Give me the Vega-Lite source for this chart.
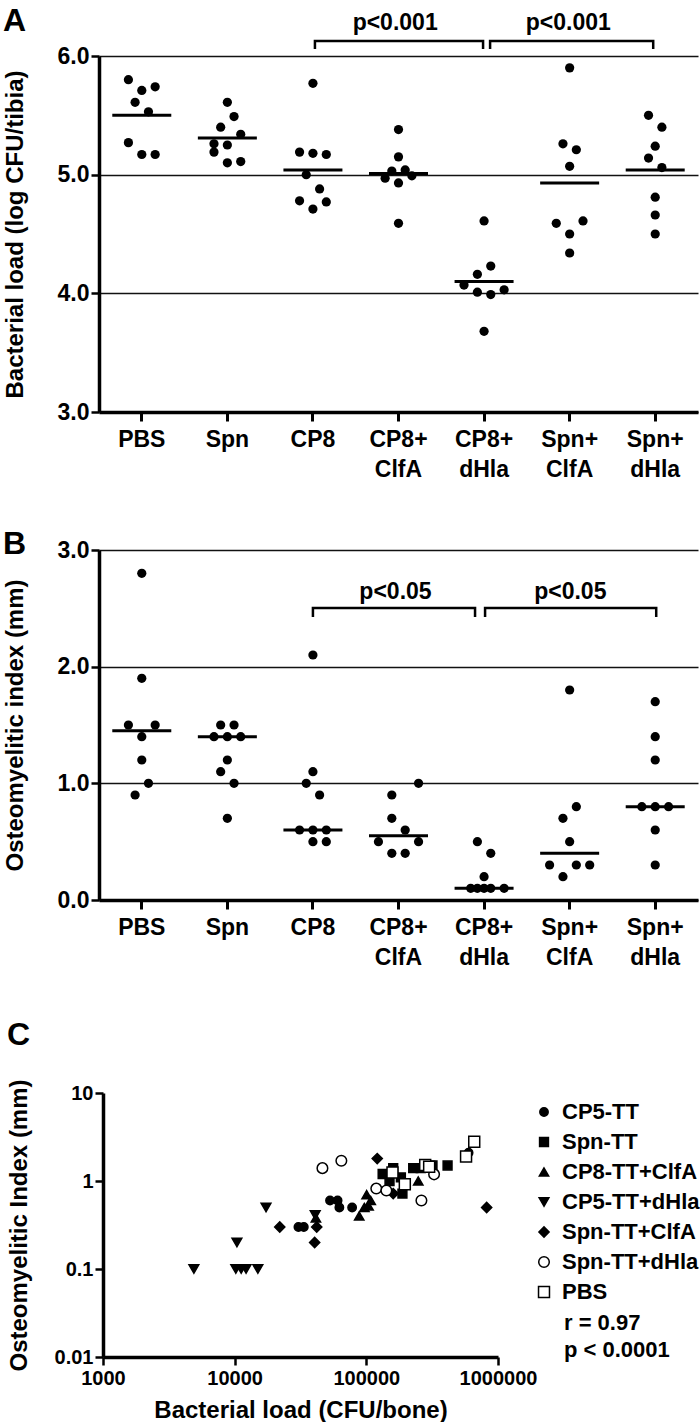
{
  "$schema": "https://vega.github.io/schema/vega-lite/v6.json",
  "background": "white",
  "padding": {"left": 2, "top": 4, "right": 0, "bottom": 0},
  "bounds": "flush",
  "spacing": 138,
  "resolve": {"scale": {"shape": "independent", "fill": "independent", "size": "independent", "stroke": "independent"}, "legend": {"shape": "independent", "fill": "independent", "size": "independent", "stroke": "independent"}},
  "config": {
    "view": {"stroke": null},
    "font": "Liberation Sans",
    "axis": {"labelFontWeight": "bold", "titleFontWeight": "bold", "labelColor": "black", "titleColor": "black", "domainColor": "black", "tickColor": "black", "domainWidth": 3.5, "tickWidth": 2.5},
    "title": {"fontWeight": "bold", "color": "black", "fontSize": 32, "anchor": "start", "frame": "bounds", "baseline": "bottom"}
  },
  "vconcat": [
    {
      "title": {"text": "A", "offset": -26},
      "width": 599,
      "height": 356,
      "encoding": {
        "x": {"field": "g", "type": "nominal", "scale": {"domain": ["PBS", "Spn", "CP8", "CP8+ ClfA", "CP8+ dHla", "Spn+ ClfA", "Spn+ dHla"], "paddingInner": 0, "paddingOuter": 0},
          "axis": {"title": null, "labelAngle": 0, "labelFontSize": 23, "labelExpr": "split(datum.label, ' ')", "labelLineHeight": 30, "labelPadding": 7, "tickSize": 9, "tickWidth": 3, "labelOverlap": false, "labelBaseline": "top"}},
        "y": {"field": "v", "type": "quantitative", "scale": {"domain": [3, 6], "nice": false, "zero": false},
          "axis": {"title": "Bacterial load (log CFU/tibia)", "titleFontSize": 24, "titleX": -72, "titleBaseline": "bottom", "values": [3, 4, 5, 6], "format": ".1f", "labelFontSize": 23, "labelPadding": 2, "tickSize": 8, "grid": true, "gridColor": "#111111", "gridWidth": 1.3}}
      },
      "layer": [
        {
          "data": {"values": [
            {"g": "PBS", "v": 5.80, "dx": -2}, {"g": "PBS", "v": 5.71, "dx": 0}, {"g": "PBS", "v": 5.74, "dx": 2}, {"g": "PBS", "v": 5.61, "dx": -1}, {"g": "PBS", "v": 5.53, "dx": 1}, {"g": "PBS", "v": 5.27, "dx": -2}, {"g": "PBS", "v": 5.17, "dx": 0}, {"g": "PBS", "v": 5.17, "dx": 2},
            {"g": "Spn", "v": 5.61, "dx": 0}, {"g": "Spn", "v": 5.49, "dx": 1}, {"g": "Spn", "v": 5.40, "dx": -1}, {"g": "Spn", "v": 5.34, "dx": 2}, {"g": "Spn", "v": 5.26, "dx": -2}, {"g": "Spn", "v": 5.25, "dx": 0}, {"g": "Spn", "v": 5.19, "dx": -2}, {"g": "Spn", "v": 5.11, "dx": 2}, {"g": "Spn", "v": 5.10, "dx": 0},
            {"g": "CP8", "v": 5.77, "dx": 0}, {"g": "CP8", "v": 5.19, "dx": -2}, {"g": "CP8", "v": 5.18, "dx": 0}, {"g": "CP8", "v": 5.17, "dx": 2}, {"g": "CP8", "v": 5.00, "dx": -1}, {"g": "CP8", "v": 4.88, "dx": 1}, {"g": "CP8", "v": 4.78, "dx": -2}, {"g": "CP8", "v": 4.77, "dx": 2}, {"g": "CP8", "v": 4.71, "dx": 0},
            {"g": "CP8+ ClfA", "v": 5.38, "dx": 0}, {"g": "CP8+ ClfA", "v": 5.15, "dx": 0}, {"g": "CP8+ ClfA", "v": 5.04, "dx": 1}, {"g": "CP8+ ClfA", "v": 5.03, "dx": -1}, {"g": "CP8+ ClfA", "v": 4.99, "dx": 2}, {"g": "CP8+ ClfA", "v": 4.97, "dx": -2}, {"g": "CP8+ ClfA", "v": 4.93, "dx": 0}, {"g": "CP8+ ClfA", "v": 4.59, "dx": 0},
            {"g": "CP8+ dHla", "v": 4.61, "dx": 0}, {"g": "CP8+ dHla", "v": 4.23, "dx": 1}, {"g": "CP8+ dHla", "v": 4.16, "dx": -1}, {"g": "CP8+ dHla", "v": 4.07, "dx": -3}, {"g": "CP8+ dHla", "v": 4.01, "dx": -1}, {"g": "CP8+ dHla", "v": 3.99, "dx": 1}, {"g": "CP8+ dHla", "v": 4.03, "dx": 3}, {"g": "CP8+ dHla", "v": 3.68, "dx": 0},
            {"g": "Spn+ ClfA", "v": 5.90, "dx": 0}, {"g": "Spn+ ClfA", "v": 5.26, "dx": -1}, {"g": "Spn+ ClfA", "v": 5.21, "dx": 1}, {"g": "Spn+ ClfA", "v": 5.07, "dx": 0}, {"g": "Spn+ ClfA", "v": 4.59, "dx": -2}, {"g": "Spn+ ClfA", "v": 4.61, "dx": 2}, {"g": "Spn+ ClfA", "v": 4.50, "dx": 0}, {"g": "Spn+ ClfA", "v": 4.34, "dx": 0},
            {"g": "Spn+ dHla", "v": 5.50, "dx": -1}, {"g": "Spn+ dHla", "v": 5.40, "dx": 1}, {"g": "Spn+ dHla", "v": 5.24, "dx": 0}, {"g": "Spn+ dHla", "v": 5.14, "dx": -1}, {"g": "Spn+ dHla", "v": 5.06, "dx": 1}, {"g": "Spn+ dHla", "v": 4.81, "dx": 0}, {"g": "Spn+ dHla", "v": 4.66, "dx": 0}, {"g": "Spn+ dHla", "v": 4.50, "dx": 0}
          ]},
          "mark": {"type": "circle", "size": 85, "color": "black", "opacity": 1},
          "encoding": {"xOffset": {"field": "dx", "type": "quantitative", "scale": {"domain": [-6.4, 6.4], "nice": false, "zero": false}}}
        },
        {
          "data": {"values": [
            {"g": "PBS", "v": 5.50}, {"g": "Spn", "v": 5.31}, {"g": "CP8", "v": 5.04}, {"g": "CP8+ ClfA", "v": 5.01}, {"g": "CP8+ dHla", "v": 4.10}, {"g": "Spn+ ClfA", "v": 4.93}, {"g": "Spn+ dHla", "v": 5.04}
          ]},
          "mark": {"type": "tick", "color": "black", "thickness": 3, "size": 59, "orient": "horizontal", "opacity": 1}
        },
        {
          "data": {"values": [
            {"b": 1, "o": 1, "g": "CP8", "dx": 0.3, "v": 6.059}, {"b": 1, "o": 2, "g": "CP8", "dx": 0.3, "v": 6.126}, {"b": 1, "o": 3, "g": "CP8+ dHla", "dx": -0.15, "v": 6.126}, {"b": 1, "o": 4, "g": "CP8+ dHla", "dx": -0.15, "v": 6.059},
            {"b": 2, "o": 1, "g": "CP8+ dHla", "dx": 0.9, "v": 6.059}, {"b": 2, "o": 2, "g": "CP8+ dHla", "dx": 0.9, "v": 6.126}, {"b": 2, "o": 3, "g": "Spn+ dHla", "dx": -0.3, "v": 6.126}, {"b": 2, "o": 4, "g": "Spn+ dHla", "dx": -0.3, "v": 6.059}
          ]},
          "mark": {"type": "line", "color": "black", "strokeWidth": 2.5},
          "encoding": {"xOffset": {"field": "dx", "type": "quantitative", "scale": {"domain": [-6.4, 6.4], "nice": false, "zero": false}}, "detail": {"field": "b"}, "order": {"field": "o"}}
        },
        {
          "data": {"values": [
            {"g": "CP8+ ClfA", "dx": -0.5, "v": 6.222, "t": "p<0.001"}, {"g": "Spn+ ClfA", "dx": -0.2, "v": 6.222, "t": "p<0.001"}
          ]},
          "mark": {"type": "text", "fontSize": 23, "fontWeight": "bold", "baseline": "alphabetic", "align": "center", "color": "black"},
          "encoding": {"xOffset": {"field": "dx", "type": "quantitative", "scale": {"domain": [-6.4, 6.4], "nice": false, "zero": false}}, "text": {"field": "t"}}
        }
      ]
    },
    {
      "title": {"text": "B", "offset": -22},
      "width": 599,
      "height": 350,
      "encoding": {
        "x": {"field": "g", "type": "nominal", "scale": {"domain": ["PBS", "Spn", "CP8", "CP8+ ClfA", "CP8+ dHla", "Spn+ ClfA", "Spn+ dHla"], "paddingInner": 0, "paddingOuter": 0},
          "axis": {"title": null, "labelAngle": 0, "labelFontSize": 23, "labelExpr": "split(datum.label, ' ')", "labelLineHeight": 30, "labelPadding": 7, "tickSize": 9, "tickWidth": 3, "labelOverlap": false, "labelBaseline": "top"}},
        "y": {"field": "v", "type": "quantitative", "scale": {"domain": [0, 3], "nice": false, "zero": false},
          "axis": {"title": "Osteomyelitic index (mm)", "titleFontSize": 24, "titleX": -72, "titleBaseline": "bottom", "values": [0, 1, 2, 3], "format": ".1f", "labelFontSize": 23, "labelPadding": 2, "tickSize": 8, "grid": true, "gridColor": "#111111", "gridWidth": 1.3}}
      },
      "layer": [
        {
          "data": {"values": [
            {"g": "PBS", "v": 2.8, "dx": 0}, {"g": "PBS", "v": 1.9, "dx": 0}, {"g": "PBS", "v": 1.5, "dx": -2}, {"g": "PBS", "v": 1.5, "dx": 2}, {"g": "PBS", "v": 1.4, "dx": 0}, {"g": "PBS", "v": 1.2, "dx": 0}, {"g": "PBS", "v": 1.0, "dx": 1}, {"g": "PBS", "v": 0.9, "dx": -1},
            {"g": "Spn", "v": 1.5, "dx": -1}, {"g": "Spn", "v": 1.5, "dx": 1}, {"g": "Spn", "v": 1.4, "dx": -2}, {"g": "Spn", "v": 1.4, "dx": 0}, {"g": "Spn", "v": 1.4, "dx": 2}, {"g": "Spn", "v": 1.2, "dx": 0}, {"g": "Spn", "v": 1.1, "dx": -1}, {"g": "Spn", "v": 1.0, "dx": 1}, {"g": "Spn", "v": 0.7, "dx": 0},
            {"g": "CP8", "v": 2.1, "dx": 0}, {"g": "CP8", "v": 1.1, "dx": 0}, {"g": "CP8", "v": 1.0, "dx": -1}, {"g": "CP8", "v": 0.9, "dx": 1}, {"g": "CP8", "v": 0.6, "dx": -2}, {"g": "CP8", "v": 0.6, "dx": 0}, {"g": "CP8", "v": 0.6, "dx": 2}, {"g": "CP8", "v": 0.5, "dx": 0}, {"g": "CP8", "v": 0.5, "dx": 2},
            {"g": "CP8+ ClfA", "v": 1.0, "dx": 3}, {"g": "CP8+ ClfA", "v": 0.9, "dx": -1}, {"g": "CP8+ ClfA", "v": 0.7, "dx": -1}, {"g": "CP8+ ClfA", "v": 0.6, "dx": 1}, {"g": "CP8+ ClfA", "v": 0.5, "dx": -3}, {"g": "CP8+ ClfA", "v": 0.5, "dx": 3}, {"g": "CP8+ ClfA", "v": 0.4, "dx": -1}, {"g": "CP8+ ClfA", "v": 0.4, "dx": 1},
            {"g": "CP8+ dHla", "v": 0.5, "dx": -1}, {"g": "CP8+ dHla", "v": 0.4, "dx": 1}, {"g": "CP8+ dHla", "v": 0.2, "dx": 0}, {"g": "CP8+ dHla", "v": 0.1, "dx": -2}, {"g": "CP8+ dHla", "v": 0.1, "dx": -1}, {"g": "CP8+ dHla", "v": 0.1, "dx": 0}, {"g": "CP8+ dHla", "v": 0.1, "dx": 1}, {"g": "CP8+ dHla", "v": 0.1, "dx": 3},
            {"g": "Spn+ ClfA", "v": 1.8, "dx": 0}, {"g": "Spn+ ClfA", "v": 0.8, "dx": 1}, {"g": "Spn+ ClfA", "v": 0.7, "dx": -1}, {"g": "Spn+ ClfA", "v": 0.5, "dx": 0}, {"g": "Spn+ ClfA", "v": 0.3, "dx": -3}, {"g": "Spn+ ClfA", "v": 0.3, "dx": 1}, {"g": "Spn+ ClfA", "v": 0.3, "dx": 3}, {"g": "Spn+ ClfA", "v": 0.2, "dx": -1},
            {"g": "Spn+ dHla", "v": 1.7, "dx": 0}, {"g": "Spn+ dHla", "v": 1.4, "dx": 0}, {"g": "Spn+ dHla", "v": 1.2, "dx": 0}, {"g": "Spn+ dHla", "v": 0.8, "dx": -2}, {"g": "Spn+ dHla", "v": 0.8, "dx": 0}, {"g": "Spn+ dHla", "v": 0.8, "dx": 2}, {"g": "Spn+ dHla", "v": 0.6, "dx": 0}, {"g": "Spn+ dHla", "v": 0.3, "dx": 0}
          ]},
          "mark": {"type": "circle", "size": 85, "color": "black", "opacity": 1},
          "encoding": {"xOffset": {"field": "dx", "type": "quantitative", "scale": {"domain": [-6.4, 6.4], "nice": false, "zero": false}}}
        },
        {
          "data": {"values": [
            {"g": "PBS", "v": 1.45}, {"g": "Spn", "v": 1.40}, {"g": "CP8", "v": 0.60}, {"g": "CP8+ ClfA", "v": 0.55}, {"g": "CP8+ dHla", "v": 0.10}, {"g": "Spn+ ClfA", "v": 0.40}, {"g": "Spn+ dHla", "v": 0.80}
          ]},
          "mark": {"type": "tick", "color": "black", "thickness": 3, "size": 59, "orient": "horizontal", "opacity": 1}
        },
        {
          "data": {"values": [
            {"b": 1, "o": 1, "g": "CP8", "dx": 0, "v": 2.426}, {"b": 1, "o": 2, "g": "CP8", "dx": 0, "v": 2.503}, {"b": 1, "o": 3, "g": "CP8+ dHla", "dx": -1.35, "v": 2.503}, {"b": 1, "o": 4, "g": "CP8+ dHla", "dx": -1.35, "v": 2.426},
            {"b": 2, "o": 1, "g": "CP8+ dHla", "dx": 0.15, "v": 2.426}, {"b": 2, "o": 2, "g": "CP8+ dHla", "dx": 0.15, "v": 2.503}, {"b": 2, "o": 3, "g": "Spn+ dHla", "dx": 0.15, "v": 2.503}, {"b": 2, "o": 4, "g": "Spn+ dHla", "dx": 0.15, "v": 2.426}
          ]},
          "mark": {"type": "line", "color": "black", "strokeWidth": 2.5},
          "encoding": {"xOffset": {"field": "dx", "type": "quantitative", "scale": {"domain": [-6.4, 6.4], "nice": false, "zero": false}}, "detail": {"field": "b"}, "order": {"field": "o"}}
        },
        {
          "data": {"values": [
            {"g": "CP8+ ClfA", "dx": -0.45, "v": 2.583, "t": "p<0.05"}, {"g": "Spn+ ClfA", "dx": 0.1, "v": 2.583, "t": "p<0.05"}
          ]},
          "mark": {"type": "text", "fontSize": 23, "fontWeight": "bold", "baseline": "alphabetic", "align": "center", "color": "black"},
          "encoding": {"xOffset": {"field": "dx", "type": "quantitative", "scale": {"domain": [-6.4, 6.4], "nice": false, "zero": false}}, "text": {"field": "t"}}
        }
      ]
    },
    {
      "title": {"text": "C", "offset": -14},
      "width": 399,
      "height": 319,
      "layer": [
        {
          "data": {"values": [
            {"grp": "CP5-TT", "load": 598000, "oi": 2.1}, {"grp": "CP5-TT", "load": 53000, "oi": 0.6}, {"grp": "CP5-TT", "load": 60500, "oi": 0.6}, {"grp": "CP5-TT", "load": 62400, "oi": 0.5}, {"grp": "CP5-TT", "load": 78000, "oi": 0.5}, {"grp": "CP5-TT", "load": 30500, "oi": 0.3}, {"grp": "CP5-TT", "load": 33500, "oi": 0.3},
            {"grp": "Spn-TT", "load": 414000, "oi": 1.5}, {"grp": "Spn-TT", "load": 318000, "oi": 1.5}, {"grp": "Spn-TT", "load": 227000, "oi": 1.4}, {"grp": "Spn-TT", "load": 259000, "oi": 1.4}, {"grp": "Spn-TT", "load": 160000, "oi": 1.4}, {"grp": "Spn-TT", "load": 133000, "oi": 1.2}, {"grp": "Spn-TT", "load": 183000, "oi": 1.1}, {"grp": "Spn-TT", "load": 150000, "oi": 1.0}, {"grp": "Spn-TT", "load": 188000, "oi": 0.72},
            {"grp": "CP8-TT+ClfA", "load": 41400, "oi": 0.38}, {"grp": "CP8-TT+ClfA", "load": 88300, "oi": 0.4}, {"grp": "CP8-TT+ClfA", "load": 96600, "oi": 0.5}, {"grp": "CP8-TT+ClfA", "load": 104000, "oi": 0.52}, {"grp": "CP8-TT+ClfA", "load": 108000, "oi": 0.6}, {"grp": "CP8-TT+ClfA", "load": 100500, "oi": 0.7}, {"grp": "CP8-TT+ClfA", "load": 248000, "oi": 1.0},
            {"grp": "CP5-TT+dHla", "load": 4900, "oi": 0.1}, {"grp": "CP5-TT+dHla", "load": 10200, "oi": 0.1}, {"grp": "CP5-TT+dHla", "load": 11200, "oi": 0.1}, {"grp": "CP5-TT+dHla", "load": 12200, "oi": 0.1}, {"grp": "CP5-TT+dHla", "load": 15000, "oi": 0.1}, {"grp": "CP5-TT+dHla", "load": 10400, "oi": 0.2}, {"grp": "CP5-TT+dHla", "load": 17300, "oi": 0.5}, {"grp": "CP5-TT+dHla", "load": 40900, "oi": 0.41},
            {"grp": "Spn-TT+ClfA", "load": 121000, "oi": 1.8}, {"grp": "Spn-TT+ClfA", "load": 820000, "oi": 0.5}, {"grp": "Spn-TT+ClfA", "load": 22000, "oi": 0.3}, {"grp": "Spn-TT+ClfA", "load": 42000, "oi": 0.3}, {"grp": "Spn-TT+ClfA", "load": 40500, "oi": 0.2}, {"grp": "Spn-TT+ClfA", "load": 160000, "oi": 0.72},
            {"grp": "Spn-TT+dHla", "load": 46400, "oi": 1.4}, {"grp": "Spn-TT+dHla", "load": 64600, "oi": 1.7}, {"grp": "Spn-TT+dHla", "load": 119000, "oi": 0.82}, {"grp": "Spn-TT+dHla", "load": 142000, "oi": 0.78}, {"grp": "Spn-TT+dHla", "load": 262000, "oi": 0.6}, {"grp": "Spn-TT+dHla", "load": 327000, "oi": 1.19},
            {"grp": "PBS", "load": 660000, "oi": 2.8}, {"grp": "PBS", "load": 572000, "oi": 1.9}, {"grp": "PBS", "load": 280000, "oi": 1.52}, {"grp": "PBS", "load": 300000, "oi": 1.45}, {"grp": "PBS", "load": 158000, "oi": 1.25}, {"grp": "PBS", "load": 196000, "oi": 0.92}
          ]},
          "mark": {"type": "point", "filled": true, "strokeWidth": 1.5, "opacity": 1},
          "encoding": {
            "x": {"field": "load", "type": "quantitative", "scale": {"type": "log", "domain": [1000, 1000000], "range": [4, 399], "nice": false},
              "axis": {"values": [1000, 10000, 100000, 1000000], "format": "d", "labelFontSize": 20, "labelPadding": 3, "tickSize": 8, "labelFlush": false, "labelOverlap": false, "grid": false, "title": "Bacterial load (CFU/bone)", "titleFontSize": 24, "titleY": 60, "titleBaseline": "alphabetic"}},
            "y": {"field": "oi", "type": "quantitative", "scale": {"type": "log", "domain": [0.01, 10], "range": [319, 55], "nice": false},
              "axis": {"values": [0.01, 0.1, 1, 10], "format": "~g", "labelFontSize": 20, "labelPadding": 2, "tickSize": 8, "grid": false, "offset": -4, "labelOverlap": false, "title": "Osteomyelitic Index (mm)", "titleFontSize": 24, "titleX": -72, "titleBaseline": "bottom"}},
            "shape": {"field": "grp", "type": "nominal", "scale": {"domain": ["CP5-TT", "Spn-TT", "CP8-TT+ClfA", "CP5-TT+dHla", "Spn-TT+ClfA", "Spn-TT+dHla", "PBS"], "range": ["circle", "square", "triangle-up", "triangle-down", "diamond", "circle", "square"]},
              "legend": {"title": null, "orient": "none", "legendX": 434, "legendY": 63, "labelFontSize": 22, "labelFontWeight": "bold", "labelColor": "black", "labelOffset": 7, "rowPadding": 8, "symbolStrokeWidth": 1.5}},
            "fill": {"field": "grp", "type": "nominal", "scale": {"domain": ["CP5-TT", "Spn-TT", "CP8-TT+ClfA", "CP5-TT+dHla", "Spn-TT+ClfA", "Spn-TT+dHla", "PBS"], "range": ["black", "black", "black", "black", "black", "white", "white"]},
              "legend": {"title": null, "orient": "none", "legendX": 434, "legendY": 63, "labelFontSize": 22, "labelFontWeight": "bold", "labelColor": "black", "labelOffset": 7, "rowPadding": 8, "symbolStrokeWidth": 1.5}},
            "stroke": {"field": "grp", "type": "nominal", "scale": {"domain": ["CP5-TT", "Spn-TT", "CP8-TT+ClfA", "CP5-TT+dHla", "Spn-TT+ClfA", "Spn-TT+dHla", "PBS"], "range": ["black", "black", "black", "black", "black", "black", "black"]},
              "legend": {"title": null, "orient": "none", "legendX": 434, "legendY": 63, "labelFontSize": 22, "labelFontWeight": "bold", "labelColor": "black", "labelOffset": 7, "rowPadding": 8, "symbolStrokeWidth": 1.5}},
            "size": {"field": "grp", "type": "nominal", "scale": {"domain": ["CP5-TT", "Spn-TT", "CP8-TT+ClfA", "CP5-TT+dHla", "Spn-TT+ClfA", "Spn-TT+dHla", "PBS"], "range": [70, 120, 115, 115, 160, 120, 125]},
              "legend": {"title": null, "orient": "none", "legendX": 434, "legendY": 63, "labelFontSize": 22, "labelFontWeight": "bold", "labelColor": "black", "labelOffset": 7, "rowPadding": 8, "symbolStrokeWidth": 1.5}}
          }
        },
        {
          "data": {"values": [{}]},
          "mark": {"type": "text", "text": ["r = 0.97", "p < 0.0001"], "fontSize": 22, "fontWeight": "bold", "align": "left", "baseline": "alphabetic", "lineHeight": 27, "color": "black"},
          "encoding": {"x": {"datum": 3170000}, "y": {"datum": 0.0203}}
        }
      ]
    }
  ]
}
